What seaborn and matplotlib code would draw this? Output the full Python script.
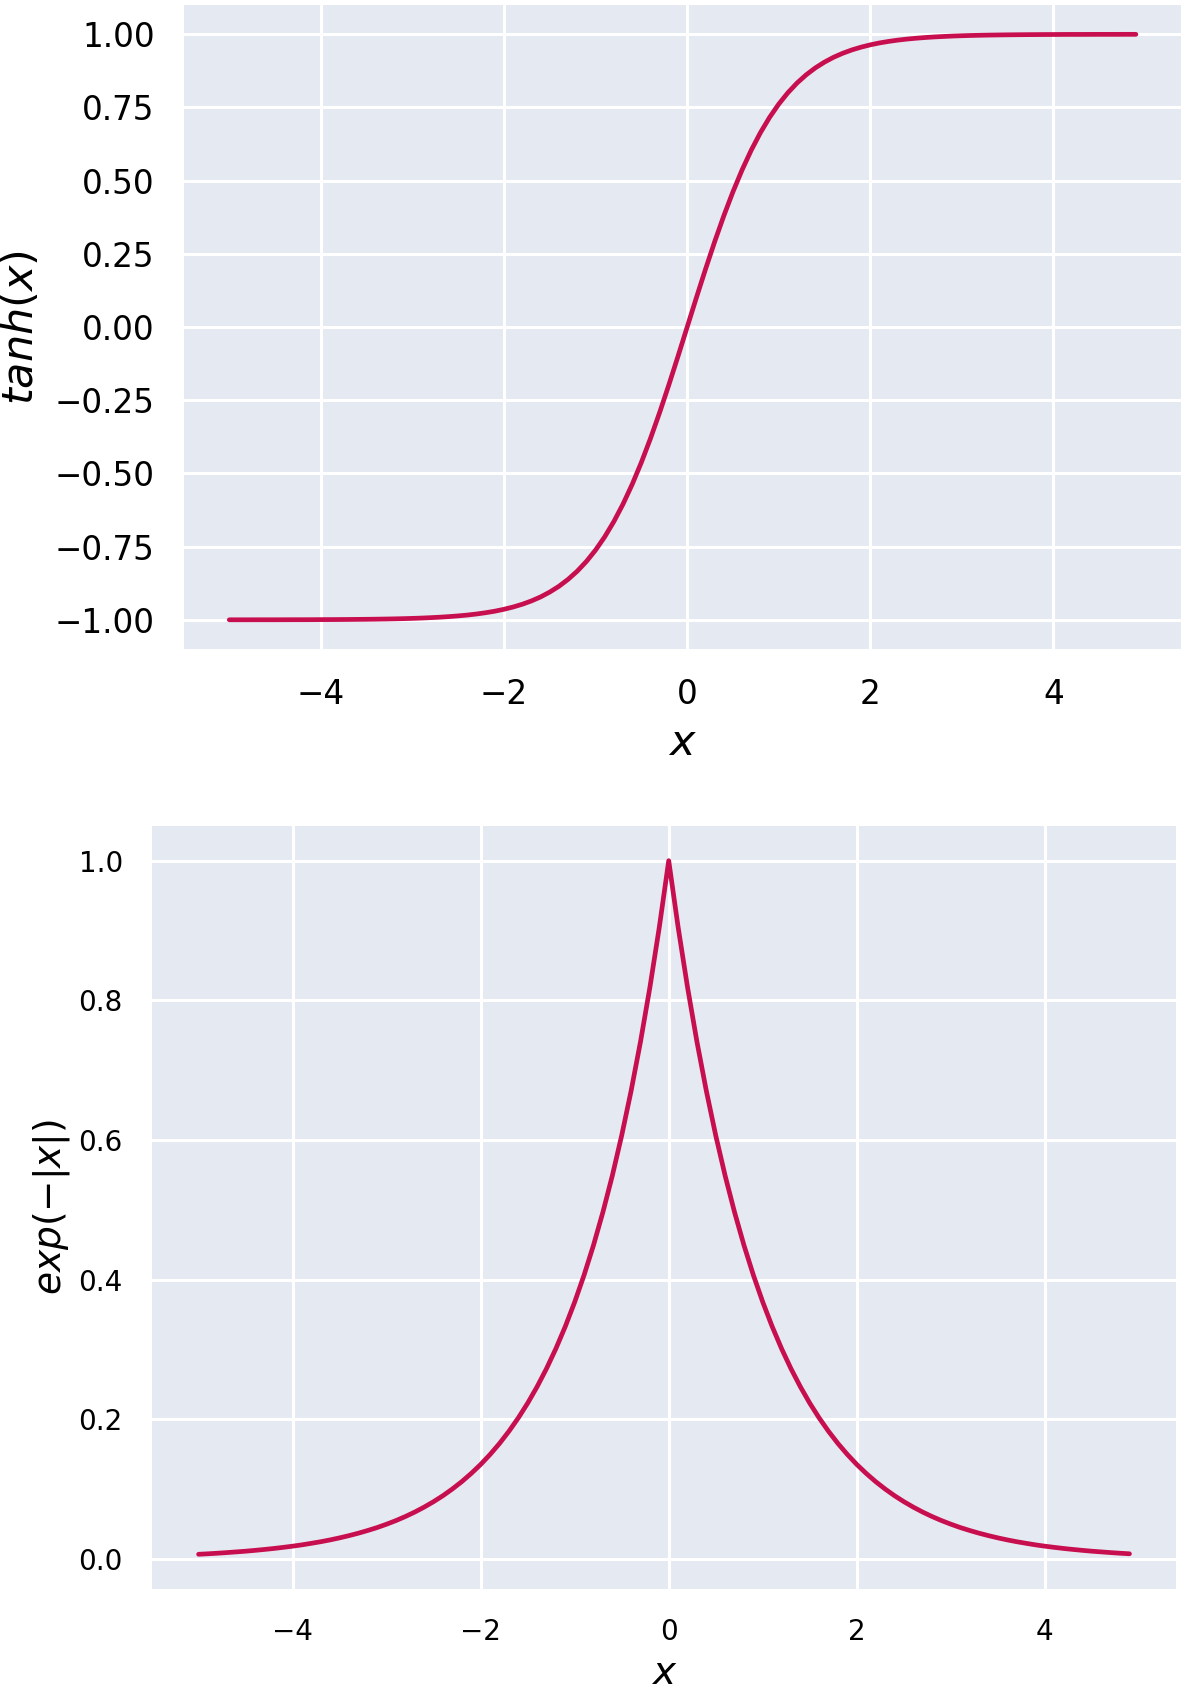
import numpy as np
import pandas as pd
import matplotlib
matplotlib.use("Agg")
import matplotlib.pyplot as plt
import seaborn as sns

# x positions and the values
x_vals = [-5.0, -4.9, -4.8, -4.7, -4.6, -4.5, -4.4, -4.3, -4.2, -4.1,
          -4.0, -3.9, -3.8, -3.7, -3.6, -3.5, -3.4, -3.3, -3.2, -3.1,
          -3.0, -2.9, -2.8, -2.7, -2.6, -2.5, -2.4, -2.3, -2.2, -2.1,
          -2.0, -1.9, -1.8, -1.7, -1.6, -1.5, -1.4, -1.3, -1.2, -1.1,
          -1.0, -0.9, -0.8, -0.7, -0.6, -0.5, -0.4, -0.3, -0.2, -0.1,
          0.0, 0.1, 0.2, 0.3, 0.4, 0.5, 0.6, 0.7, 0.8, 0.9,
          1.0, 1.1, 1.2, 1.3, 1.4, 1.5, 1.6, 1.7, 1.8, 1.9,
          2.0, 2.1, 2.2, 2.3, 2.4, 2.5, 2.6, 2.7, 2.8, 2.9,
          3.0, 3.1, 3.2, 3.3, 3.4, 3.5, 3.6, 3.7, 3.8, 3.9,
          4.0, 4.1, 4.2, 4.3, 4.4, 4.5, 4.6, 4.7, 4.8, 4.9]

tanh_vals = [-0.9999, -0.9999, -0.9999, -0.9998, -0.9998, -0.9998, -0.9997, -0.9996, -0.9996, -0.9995,
             -0.9993, -0.9992, -0.9990, -0.9988, -0.9985, -0.9982, -0.9978, -0.9973, -0.9967, -0.9960,
             -0.9951, -0.9940, -0.9926, -0.9910, -0.9890, -0.9866, -0.9837, -0.9801, -0.9757, -0.9705,
             -0.9640, -0.9562, -0.9468, -0.9354, -0.9217, -0.9051, -0.8854, -0.8617, -0.8337, -0.8005,
             -0.7616, -0.7163, -0.6640, -0.6044, -0.5370, -0.4621, -0.3799, -0.2913, -0.1974, -0.0997,
             0.0, 0.0997, 0.1974, 0.2913, 0.3799, 0.4621, 0.5370, 0.6044, 0.6640, 0.7163,
             0.7616, 0.8005, 0.8337, 0.8617, 0.8854, 0.9051, 0.9217, 0.9354, 0.9468, 0.9562,
             0.9640, 0.9705, 0.9757, 0.9801, 0.9837, 0.9866, 0.9890, 0.9910, 0.9926, 0.9940,
             0.9951, 0.9960, 0.9967, 0.9973, 0.9978, 0.9982, 0.9985, 0.9988, 0.9990, 0.9992,
             0.9993, 0.9995, 0.9996, 0.9996, 0.9997, 0.9998, 0.9998, 0.9998, 0.9999, 0.9999]

exp_vals = [0.0067, 0.0074, 0.0082, 0.0091, 0.0101, 0.0111, 0.0123, 0.0136, 0.0150, 0.0166,
            0.0183, 0.0202, 0.0224, 0.0247, 0.0273, 0.0302, 0.0334, 0.0369, 0.0408, 0.0450,
            0.0498, 0.0550, 0.0608, 0.0672, 0.0743, 0.0821, 0.0907, 0.1003, 0.1108, 0.1225,
            0.1353, 0.1496, 0.1653, 0.1827, 0.2019, 0.2231, 0.2466, 0.2725, 0.3012, 0.3329,
            0.3679, 0.4066, 0.4493, 0.4966, 0.5488, 0.6065, 0.6703, 0.7408, 0.8187, 0.9048,
            1.0, 0.9048, 0.8187, 0.7408, 0.6703, 0.6065, 0.5488, 0.4966, 0.4493, 0.4066,
            0.3679, 0.3329, 0.3012, 0.2725, 0.2466, 0.2231, 0.2019, 0.1827, 0.1653, 0.1496,
            0.1353, 0.1225, 0.1108, 0.1003, 0.0907, 0.0821, 0.0743, 0.0672, 0.0608, 0.0550,
            0.0498, 0.0450, 0.0408, 0.0369, 0.0334, 0.0302, 0.0273, 0.0247, 0.0224, 0.0202,
            0.0183, 0.0166, 0.0150, 0.0136, 0.0123, 0.0111, 0.0101, 0.0091, 0.0082, 0.0074]

df = pd.DataFrame({"x": x_vals, "tanh": tanh_vals, "exp": exp_vals})

sns.set_theme(style="darkgrid", rc={
    "axes.facecolor": "#e5eaf2",
    "grid.color": "white",
    "grid.linewidth": 2.2,
    "text.color": "black",
    "axes.labelcolor": "black",
    "xtick.color": "black",
    "ytick.color": "black",
})
plt.rcParams["font.family"] = ["DejaVu Sans"]
plt.rcParams["mathtext.fontset"] = "dejavusans"

line_color = "#c70f4f"

fig = plt.figure(figsize=(11.83, 16.85), dpi=100)

ax1 = fig.add_axes([0.1555, 0.6148, 0.843, 0.3822])
sns.lineplot(data=df, x="x", y="tanh", ax=ax1, color=line_color, linewidth=3.4)
ax1.set_xlabel("$x$", fontsize=31, labelpad=8)
ax1.set_ylabel("$tanh(x)$", fontsize=31, labelpad=9)
ax1.set_yticks([-1.0, -0.75, -0.5, -0.25, 0.0, 0.25, 0.5, 0.75, 1.0])
ax1.tick_params(labelsize=23.5, pad=15)

ax2 = fig.add_axes([0.1285, 0.057, 0.8656, 0.4528])
sns.lineplot(data=df, x="x", y="exp", ax=ax2, color=line_color, linewidth=3.4)
ax2.set_xlabel("$x$", fontsize=28, labelpad=6)
ax2.set_ylabel("$exp(-|x|)$", fontsize=27, labelpad=5)
ax2.tick_params(labelsize=20, pad=15)

for ax in (ax1, ax2):
    for s in ax.spines.values():
        s.set_visible(False)

fig.savefig("out.png", dpi=100)
